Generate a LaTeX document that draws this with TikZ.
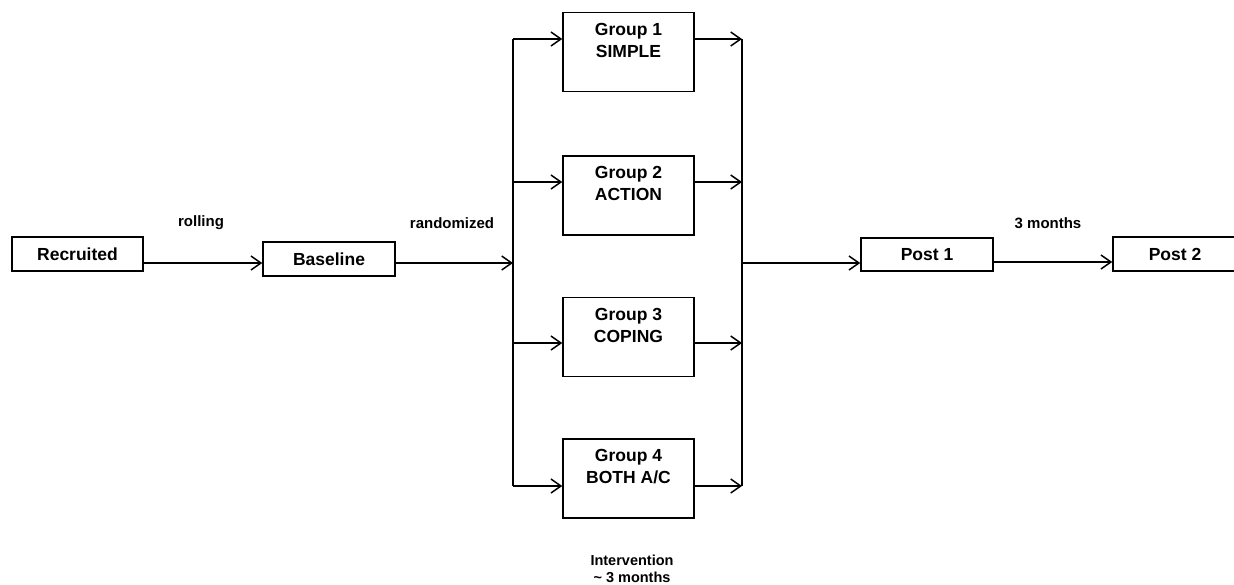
\documentclass[tikz,border=0pt]{standalone}
\usepackage{fontspec}
\setmainfont{Liberation Sans}
\usetikzlibrary{arrows.meta}
\begin{document}
\begin{tikzpicture}[x=1pt,y=-1pt,
  box/.style={draw=black, line width=1.5pt, rectangle, inner sep=0pt, font=\fontsize{17.5}{20}\selectfont\bfseries},
  gbox/.style={draw=black, line width=1.5pt, rectangle, inner sep=0pt, minimum width=131pt, minimum height=79pt},
  gtext/.style={anchor=north, align=center, inner sep=0pt, font=\fontsize{17.5}{22}\selectfont\bfseries},
  lab/.style={inner sep=0pt, font=\fontsize{15}{17}\selectfont\bfseries},
  wire/.style={draw=black, line width=1.5pt},
  arr/.style={wire, -{Straight Barb[length=10pt,width=14pt,line width=1.5pt]}}
]
\useasboundingbox (0,0) rectangle (1234,584);

% main chain
\node[box, minimum width=131pt, minimum height=34pt] (rec) at (77.5,254) {Recruited};
\node[box, minimum width=132pt, minimum height=34pt] (base) at (329,259) {Baseline};
\node[box, minimum width=132pt, minimum height=33pt] (post1) at (927,254.5) {Post 1};
\node[box, minimum width=124pt, minimum height=34pt] (post2) at (1175,254) {Post 2};

% groups
\node[gbox] (g1) at (628.5,52) {};
\node[gbox] (g2) at (628.5,195.5) {};
\node[gbox] (g3) at (628.5,337) {};
\node[gbox] (g4) at (628.5,478.5) {};
\node[gtext] (g1t) at ([yshift=-11pt]g1.north) {Group 1\\SIMPLE};
\node[gtext] (g2t) at ([yshift=-11pt]g2.north) {Group 2\\ACTION};
\node[gtext] (g3t) at ([yshift=-11pt]g3.north) {Group 3\\COPING};
\node[gtext] (g4t) at ([yshift=-11pt]g4.north) {Group 4\\BOTH A/C};

% split and merge bars
\coordinate (sTop) at (513,39);
\coordinate (sBot) at (513,486);
\coordinate (mTop) at (742,39);
\coordinate (mBot) at (742,486);
\coordinate (sIn) at (513,263);
\coordinate (mOut) at (742,263);
\draw[wire] (sTop) -- (sBot);
\draw[wire] (mTop) -- (mBot);

% connectors
\draw[arr] (rec.east |- 0,263) -- (base.west |- 0,263);
\draw[arr] (base.east |- sIn) -- (sIn);
\foreach \g/\y in {g1/39, g2/182, g3/343, g4/486}{
  \draw[arr] (513,\y) -- (\g.west |- 0,\y);
  \draw[arr] (\g.east |- 0,\y) -- (742,\y);
}
\draw[arr] (mOut) -- (post1.west |- mOut);
\draw[arr] (post1.east |- 0,262) -- (post2.west |- 0,262);

% labels
\node[lab] (lroll) at (201,223) {rolling};
\node[lab] (lrand) at (452,223) {randomized};
\node[lab] (l3m) at (1048,223) {3 months};
\node[lab, align=center, font=\fontsize{14.5}{16.5}\selectfont\bfseries] (lint) at (632,569) {Intervention\\\textasciitilde\ 3 months};
\end{tikzpicture}
\end{document}
